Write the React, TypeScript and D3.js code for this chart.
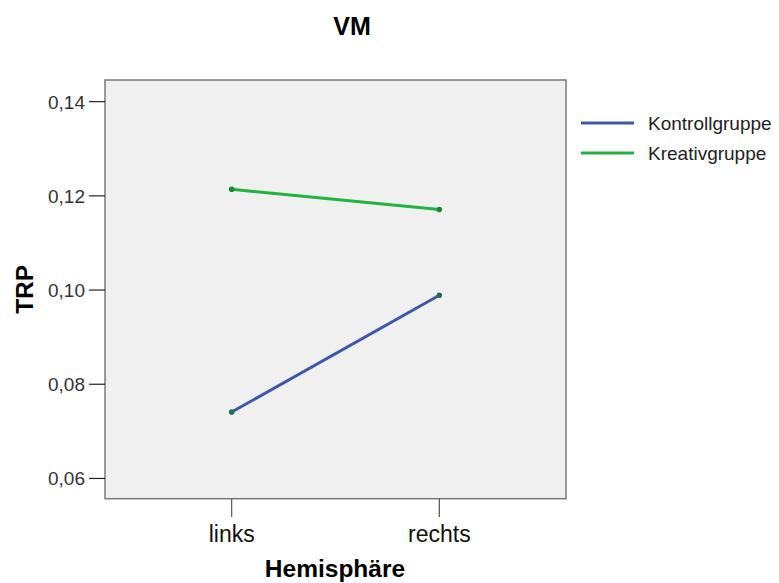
import React from "react";
import * as d3 from "d3";

const categories = ["links", "rechts"];
const seriesNames = ["Kontrollgruppe", "Kreativgruppe"];
const kontrollValues = [0.0741, 0.0989];
const kreativValues = [0.1214, 0.1171];
const yTicks = [0.06, 0.08, 0.1, 0.12, 0.14];
const colors = ["#3f57ab", "#22b23f"];

const W = 779;
const H = 583;
const M = { left: 105, right: 566, top: 80, bottom: 498.7 };

export default function App() {
  const x = d3.scalePoint<string>().domain(categories).range([M.left, M.right]).padding(0.61);
  const y = d3.scaleLinear().domain([0.0557, 0.1446]).range([M.bottom, M.top]);
  const line = d3
    .line<number>()
    .x((_, i) => x(categories[i]) as number)
    .y((d) => y(d));
  const series = [kontrollValues, kreativValues];
  const fmt = (v: number) => d3.format(".2f")(v).replace(".", ",");
  const font = "Liberation Sans, Arial, sans-serif";
  return (
    <svg
      width={W}
      height={H}
      style={{ position: "absolute", left: 0, top: 0, background: "#ffffff" }}
      fontFamily={font}
    >
      <rect x={M.left} y={M.top} width={M.right - M.left} height={M.bottom - M.top} fill="#f0f0f0" stroke="#7a7a7a" strokeWidth={1.5} />
      {yTicks.map((t) => (
        <g key={t}>
          <line x1={89} x2={M.left} y1={y(t)} y2={y(t)} stroke="#222" strokeWidth={1.2} />
          <text x={85} y={y(t)} dy="0.36em" textAnchor="end" fontSize={19} fill="#333">
            {fmt(t)}
          </text>
        </g>
      ))}
      {categories.map((c) => (
        <g key={c}>
          <line x1={x(c)} x2={x(c)} y1={M.bottom} y2={517} stroke="#555" strokeWidth={1.2} />
          <text x={x(c)} y={542} textAnchor="middle" fontSize={23} fill="#111">
            {c}
          </text>
        </g>
      ))}
      {series.map((s, i) => (
        <g key={i}>
          <path d={line(s) as string} fill="none" stroke={colors[i]} strokeWidth={3} />
          {s.map((v, j) => (
            <circle key={j} cx={x(categories[j])} cy={y(v)} r={2.8} fill={i === 0 ? "#1f6f5a" : "#178a36"} />
          ))}
        </g>
      ))}
      <text x={352} y={35} textAnchor="middle" fontSize={25} fontWeight="bold" fill="#000">
        VM
      </text>
      <text x={335} y={577} textAnchor="middle" fontSize={24.5} fontWeight="bold" fill="#000">
        Hemisphäre
      </text>
      <text transform={`translate(33,${(M.top + M.bottom) / 2}) rotate(-90)`} textAnchor="middle" fontSize={24.5} fontWeight="bold" fill="#000">
        TRP
      </text>
      {seriesNames.map((n, i) => (
        <g key={n}>
          <line x1={581} x2={634} y1={123 + i * 30} y2={123 + i * 30} stroke={colors[i]} strokeWidth={3} />
          <text x={648} y={123 + i * 30} dy="0.36em" fontSize={19} fill="#222">
            {n}
          </text>
        </g>
      ))}
    </svg>
  );
}
